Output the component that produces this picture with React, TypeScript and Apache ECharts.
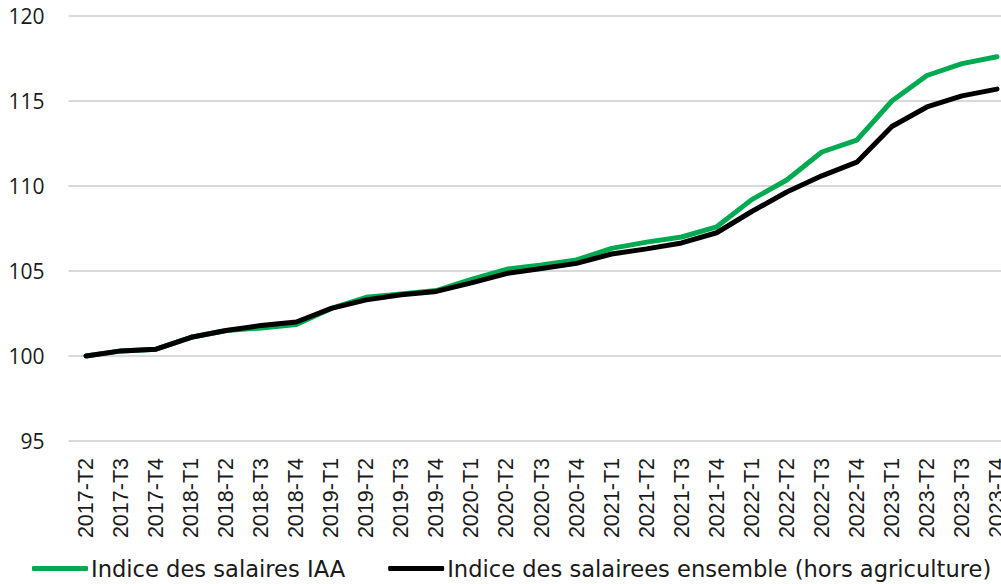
import React, { useEffect, useRef } from "react";
import * as echarts from "echarts";

const categories = [
  "2017-T2", "2017-T3", "2017-T4",
  "2018-T1", "2018-T2", "2018-T3", "2018-T4",
  "2019-T1", "2019-T2", "2019-T3", "2019-T4",
  "2020-T1", "2020-T2", "2020-T3", "2020-T4",
  "2021-T1", "2021-T2", "2021-T3", "2021-T4",
  "2022-T1", "2022-T2", "2022-T3", "2022-T4",
  "2023-T1", "2023-T2", "2023-T3", "2023-T4",
];

const salairesIAA = [
  100.0, 100.3, 100.4,
  101.1, 101.5, 101.65, 101.85,
  102.8, 103.45, 103.65, 103.85,
  104.5, 105.1, 105.35, 105.65,
  106.33, 106.7, 107.0, 107.6,
  109.2, 110.35, 112.0, 112.7,
  115.0, 116.5, 117.2, 117.6,
];

const salairesEnsemble = [
  100.0, 100.3, 100.4,
  101.1, 101.5, 101.8, 102.0,
  102.8, 103.3, 103.6, 103.8,
  104.3, 104.85, 105.15, 105.45,
  106.0, 106.3, 106.65, 107.25,
  108.5, 109.65, 110.6, 111.4,
  113.5, 114.65, 115.3, 115.7,
];

const yTicks = { min: 95, max: 120, interval: 5 };

const seriesNames = [
  "Indice des salaires IAA",
  "Indice des salairees ensemble (hors agriculture)",
];

export default function App() {
  const ref = useRef<HTMLDivElement>(null);
  useEffect(() => {
    if (!ref.current) return;
    const chart = echarts.init(ref.current, undefined, { renderer: "svg" });
    chart.setOption({
      animation: false,
      grid: { left: 68.5, right: 15.5, top: 16, bottom: 143, containLabel: false },
      legend: {
        left: 32,
        top: 557,
        padding: 0,
        itemWidth: 56,
        itemHeight: 5,
        itemGap: 43,
        icon: "roundRect",
        textStyle: { fontFamily: "DejaVu Sans", fontSize: 22.6, color: "#1a1a1a", padding: [0, 0, 0, -2] },
        data: seriesNames,
      },
      xAxis: {
        type: "category",
        data: categories,
        boundaryGap: true,
        axisLine: { show: false },
        axisTick: { show: false },
        axisLabel: {
          rotate: 90,
          interval: 0,
          margin: 17,
          fontFamily: "Liberation Sans",
          fontSize: 21.5,
          color: "#1a1a1a",
        },
      },
      yAxis: {
        type: "value",
        min: yTicks.min,
        max: yTicks.max,
        interval: yTicks.interval,
        axisLine: { show: false },
        axisTick: { show: false },
        splitLine: { lineStyle: { color: "#d9d9d9", width: 2 } },
        axisLabel: {
          margin: 24,
          fontFamily: "Open Sans",
          fontSize: 21,
          color: "#1a1a1a",
        },
      },
      series: [
        {
          name: seriesNames[0],
          type: "line",
          data: salairesIAA,
          showSymbol: false,
          symbol: "none",
          lineStyle: { color: "#00AA50", width: 5, cap: "round", join: "round" },
          itemStyle: { color: "#00AA50" },
        },
        {
          name: seriesNames[1],
          type: "line",
          data: salairesEnsemble,
          showSymbol: false,
          symbol: "none",
          lineStyle: { color: "#000000", width: 5, cap: "round", join: "round" },
          itemStyle: { color: "#000000" },
        },
      ],
    });
    return () => chart.dispose();
  }, []);
  return (
    <div style={{ position: "fixed", left: 0, top: 0, width: 1001, height: 584, overflow: "hidden", background: "#fff" }}>
      <div ref={ref} style={{ width: 1030, height: 584 }} />
    </div>
  );
}
